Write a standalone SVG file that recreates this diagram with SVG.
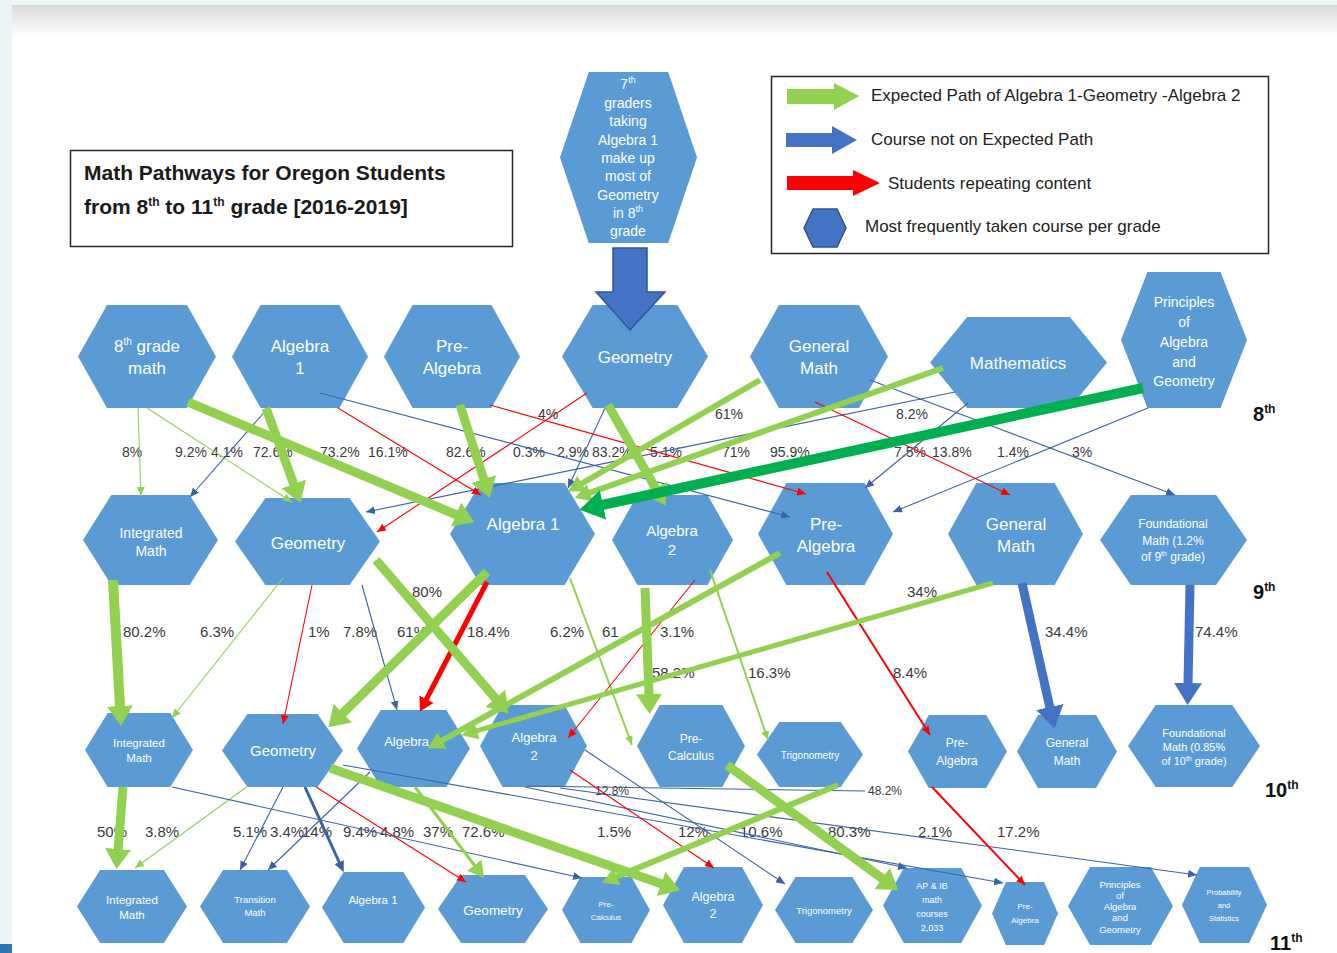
<svg xmlns="http://www.w3.org/2000/svg" xmlns:xlink="http://www.w3.org/1999/xlink" width="1337" height="953" viewBox="0 0 1337 953">
<defs>
  <linearGradient id="topfade" x1="0" y1="0" x2="0" y2="1">
    <stop offset="0" stop-color="#d9d9d9"/>
    <stop offset="1" stop-color="#ffffff"/>
  </linearGradient>
  <polygon id="hx" points="0.21,0 0.79,0 1,0.5 0.79,1 0.21,1 0,0.5"/>
  <!-- arrowheads: small ones put the tip on the line end, larger ones start at the line end -->
  <marker id="mgs" markerUnits="userSpaceOnUse" markerWidth="9" markerHeight="8" refX="9" refY="4" orient="auto"><path d="M0,0 L9,4 L0,8 z" fill="#92d050"/></marker>
  <marker id="mbs" markerUnits="userSpaceOnUse" markerWidth="9" markerHeight="8" refX="9" refY="4" orient="auto"><path d="M0,0 L9,4 L0,8 z" fill="#3a62a8"/></marker>
  <marker id="mrs" markerUnits="userSpaceOnUse" markerWidth="9" markerHeight="8" refX="9" refY="4" orient="auto"><path d="M0,0 L9,4 L0,8 z" fill="#ff0000"/></marker>
  <marker id="mbm" markerUnits="userSpaceOnUse" markerWidth="11" markerHeight="10" refX="2" refY="5" orient="auto"><path d="M0,0 L11,5 L0,10 z" fill="#3a62a8"/></marker>
  <marker id="mgm" markerUnits="userSpaceOnUse" markerWidth="16" markerHeight="18" refX="1" refY="9" orient="auto"><path d="M0,0 L16,9 L0,18 z" fill="#92d050"/></marker>
  <marker id="mrm" markerUnits="userSpaceOnUse" markerWidth="14" markerHeight="16" refX="1" refY="8" orient="auto"><path d="M0,0 L14,8 L0,16 z" fill="#ff0000"/></marker>
  <marker id="mgl" markerUnits="userSpaceOnUse" markerWidth="20" markerHeight="26" refX="1" refY="13" orient="auto"><path d="M0,0 L20,13 L0,26 z" fill="#92d050"/></marker>
  <marker id="mbl" markerUnits="userSpaceOnUse" markerWidth="22" markerHeight="28" refX="1" refY="14" orient="auto"><path d="M0,0 L22,14 L0,28 z" fill="#4472c4"/></marker>
  <marker id="mdg" markerUnits="userSpaceOnUse" markerWidth="24" markerHeight="30" refX="1" refY="15" orient="auto"><path d="M0,0 L24,15 L0,30 z" fill="#00b050"/></marker>
  <style>
    .hx { fill: #5b9bd5; }
    .ht { fill: #ffffff; font-family: "Liberation Sans", Arial, sans-serif; text-anchor: middle; }
    .pct { fill: #3a3a3a; font-family: "Liberation Sans", Arial, sans-serif; }
    .p1 { font-size: 14px; }
    .p2 { font-size: 15px; }
    .p3 { font-size: 12px; }
    .gr { fill: #111; font-family: "Liberation Sans", Arial, sans-serif; font-weight: bold; font-size: 20px; }
    .lg { fill: #222; font-family: "Liberation Sans", Arial, sans-serif; font-size: 17px; }
    .ttl { fill: #1a1a1a; font-family: "Liberation Sans", Arial, sans-serif; font-weight: bold; font-size: 21px; }
    .box { fill: none; stroke: #262626; stroke-width: 1.5; }
    line { fill: none; stroke-linecap: butt; }
    .g { stroke: #92d050; }
    .b { stroke: #3a62a8; }
    .bb { stroke: #4472c4; }
    .r { stroke: #ff0000; }
    .dg { stroke: #00b050; }
    .w1 { stroke-width: 1.1; }
    .w2 { stroke-width: 2; }
    .w3 { stroke-width: 3; }
    .w5 { stroke-width: 5; }
    .w6 { stroke-width: 6; }
    .w9 { stroke-width: 9; }
    .w10 { stroke-width: 10; }
  </style>
</defs>

<!-- page background -->
<rect x="0" y="0" width="1337" height="953" fill="#ffffff"/>
<rect x="0" y="0" width="1337" height="6" fill="#eef6f9"/>
<rect x="12" y="5" width="1325" height="32" fill="url(#topfade)"/>
<rect x="0" y="0" width="12" height="953" fill="#eaf5f8"/>
<rect x="0" y="944" width="12" height="9" fill="#2e75b6"/>

<!-- title -->
<g id="title">
  <rect class="box" x="70.5" y="150.5" width="442" height="96"/>
  <text class="ttl" x="84" y="180">Math Pathways for Oregon Students</text>
  <text class="ttl" x="84" y="214">from 8<tspan dy="-8" font-size="12">th</tspan><tspan dy="8"> to 11</tspan><tspan dy="-8" font-size="12">th</tspan><tspan dy="8"> grade [2016-2019]</tspan></text>
</g>

<!-- legend -->
<g id="legend">
  <rect class="box" x="771.5" y="76.5" width="497" height="177"/>
  <polygon points="787,89 834,89 834,83 859,96 834,110 834,104 787,104" fill="#92d050"/>
  <text class="lg" x="871" y="101">Expected Path of Algebra 1-Geometry -Algebra 2</text>
  <polygon points="786,133 832,133 832,126 857,140 832,154 832,147 786,147" fill="#4472c4"/>
  <text class="lg" x="871" y="145">Course not on Expected Path</text>
  <polygon points="787,176 853,176 853,170 880,183 853,196 853,190 787,190" fill="#ff0000"/>
  <text class="lg" x="888" y="189">Students repeating content</text>
  <polygon points="813,209 837,209 846,228 837,247 813,247 804,228" fill="#4472c4" stroke="#2f528f" stroke-width="1.5"/>
  <text class="lg" x="865" y="232">Most frequently taken course per grade</text>
</g>

<!-- 7th grade note -->
<g id="n7-note">
  <use xlink:href="#hx" class="hx" transform="translate(560,72) scale(137,171)"/>
  <g class="ht" font-size="14">
    <text x="628" y="89">7<tspan dy="-6" font-size="9">th</tspan></text>
    <text x="628" y="108">graders</text>
    <text x="628" y="126">taking</text>
    <text x="628" y="145">Algebra 1</text>
    <text x="628" y="163">make up</text>
    <text x="628" y="181">most of</text>
    <text x="628" y="200">Geometry</text>
    <text x="628" y="218">in 8<tspan dy="-6" font-size="9">th</tspan></text>
    <text x="628" y="236">grade</text>
  </g>
</g>

<!-- 8th grade courses -->
<g id="g8-math">
  <use xlink:href="#hx" class="hx" transform="translate(78,305) scale(138,103)"/>
  <text class="ht" font-size="17" x="147" y="352">8<tspan dy="-7" font-size="10">th</tspan><tspan dy="7"> grade</tspan></text>
  <text class="ht" font-size="17" x="147" y="374">math</text>
</g>
<g id="g8-alg1">
  <use xlink:href="#hx" class="hx" transform="translate(232,305) scale(136,103)"/>
  <text class="ht" font-size="17" x="300" y="352">Algebra</text>
  <text class="ht" font-size="17" x="300" y="374">1</text>
</g>
<g id="g8-prealg">
  <use xlink:href="#hx" class="hx" transform="translate(384,305) scale(136,103)"/>
  <text class="ht" font-size="17" x="452" y="352">Pre-</text>
  <text class="ht" font-size="17" x="452" y="374">Algebra</text>
</g>
<g id="g8-geom">
  <use xlink:href="#hx" class="hx" transform="translate(562,305) scale(146,103)"/>
  <text class="ht" font-size="17" x="635" y="363">Geometry</text>
</g>
<g id="g8-genmath">
  <use xlink:href="#hx" class="hx" transform="translate(750,305) scale(138,103)"/>
  <text class="ht" font-size="17" x="819" y="352">General</text>
  <text class="ht" font-size="17" x="819" y="374">Math</text>
</g>
<g id="g8-mathematics">
  <use xlink:href="#hx" class="hx" transform="translate(930,317) scale(177,91)"/>
  <text class="ht" font-size="17" x="1018" y="369">Mathematics</text>
</g>
<g id="g8-principles">
  <use xlink:href="#hx" class="hx" transform="translate(1121,272) scale(126,136)"/>
  <g class="ht" font-size="14">
    <text x="1184" y="307">Principles</text>
    <text x="1184" y="327">of</text>
    <text x="1184" y="347">Algebra</text>
    <text x="1184" y="367">and</text>
    <text x="1184" y="386">Geometry</text>
  </g>
</g>

<!-- 9th grade courses -->
<g id="g9-intmath">
  <use xlink:href="#hx" class="hx" transform="translate(83,495) scale(135,90)"/>
  <text class="ht" font-size="14" x="151" y="538">Integrated</text>
  <text class="ht" font-size="14" x="151" y="556">Math</text>
</g>
<g id="g9-geom">
  <use xlink:href="#hx" class="hx" transform="translate(235,498) scale(145,87)"/>
  <text class="ht" font-size="17" x="308" y="549">Geometry</text>
</g>
<g id="g9-alg1">
  <use xlink:href="#hx" class="hx" transform="translate(450,483) scale(145,102)"/>
  <text class="ht" font-size="17" x="523" y="530">Algebra 1</text>
</g>
<g id="g9-alg2">
  <use xlink:href="#hx" class="hx" transform="translate(612,495) scale(121,90)"/>
  <text class="ht" font-size="15" x="672" y="536">Algebra</text>
  <text class="ht" font-size="15" x="672" y="555">2</text>
</g>
<g id="g9-prealg">
  <use xlink:href="#hx" class="hx" transform="translate(758,483) scale(135,102)"/>
  <text class="ht" font-size="17" x="826" y="530">Pre-</text>
  <text class="ht" font-size="17" x="826" y="552">Algebra</text>
</g>
<g id="g9-genmath">
  <use xlink:href="#hx" class="hx" transform="translate(948,483) scale(135,102)"/>
  <text class="ht" font-size="17" x="1016" y="530">General</text>
  <text class="ht" font-size="17" x="1016" y="552">Math</text>
</g>
<g id="g9-found">
  <use xlink:href="#hx" class="hx" transform="translate(1100,495) scale(147,90)"/>
  <g class="ht" font-size="12">
    <text x="1173" y="528">Foundational</text>
    <text x="1173" y="545">Math (1.2%</text>
    <text x="1173" y="561">of 9<tspan dy="-5" font-size="7">th</tspan><tspan dy="5"> grade)</tspan></text>
  </g>
</g>

<!-- 10th grade courses -->
<g id="g10-intmath">
  <use xlink:href="#hx" class="hx" transform="translate(85,713) scale(108,74)"/>
  <text class="ht" font-size="11.5" x="139" y="747">Integrated</text>
  <text class="ht" font-size="11.5" x="139" y="762">Math</text>
</g>
<g id="g10-geom">
  <use xlink:href="#hx" class="hx" transform="translate(222,714) scale(121,73)"/>
  <text class="ht" font-size="15" x="283" y="756">Geometry</text>
</g>
<g id="g10-alg1">
  <use xlink:href="#hx" class="hx" transform="translate(357,710) scale(113,77)"/>
  <text class="ht" font-size="13" x="412" y="746">Algebra 1</text>
</g>
<g id="g10-alg2">
  <use xlink:href="#hx" class="hx" transform="translate(480,705) scale(107,82)"/>
  <text class="ht" font-size="13" x="534" y="742">Algebra</text>
  <text class="ht" font-size="13" x="534" y="760">2</text>
</g>
<g id="g10-precalc">
  <use xlink:href="#hx" class="hx" transform="translate(637,705) scale(108,82)"/>
  <text class="ht" font-size="12" x="691" y="743">Pre-</text>
  <text class="ht" font-size="12" x="691" y="760">Calculus</text>
</g>
<g id="g10-trig">
  <use xlink:href="#hx" class="hx" transform="translate(757,722) scale(106,65)"/>
  <text class="ht" font-size="10" x="810" y="759">Trigonometry</text>
</g>
<g id="g10-prealg">
  <use xlink:href="#hx" class="hx" transform="translate(908,715) scale(99,73)"/>
  <text class="ht" font-size="12" x="957" y="747">Pre-</text>
  <text class="ht" font-size="12" x="957" y="765">Algebra</text>
</g>
<g id="g10-genmath">
  <use xlink:href="#hx" class="hx" transform="translate(1017,715) scale(100,73)"/>
  <text class="ht" font-size="12" x="1067" y="747">General</text>
  <text class="ht" font-size="12" x="1067" y="765">Math</text>
</g>
<g id="g10-found">
  <use xlink:href="#hx" class="hx" transform="translate(1128,705) scale(132,82)"/>
  <g class="ht" font-size="11">
    <text x="1194" y="737">Foundational</text>
    <text x="1194" y="751">Math (0.85%</text>
    <text x="1194" y="765">of 10<tspan dy="-4" font-size="7">th</tspan><tspan dy="4"> grade)</tspan></text>
  </g>
</g>

<!-- 11th grade courses -->
<g id="g11-intmath">
  <use xlink:href="#hx" class="hx" transform="translate(77,870) scale(110,73)"/>
  <text class="ht" font-size="11.5" x="132" y="904">Integrated</text>
  <text class="ht" font-size="11.5" x="132" y="919">Math</text>
</g>
<g id="g11-transition">
  <use xlink:href="#hx" class="hx" transform="translate(200,870) scale(110,73)"/>
  <text class="ht" font-size="9.5" x="255" y="903">Transition</text>
  <text class="ht" font-size="9.5" x="255" y="916">Math</text>
</g>
<g id="g11-alg1">
  <use xlink:href="#hx" class="hx" transform="translate(322,872) scale(103,71)"/>
  <text class="ht" font-size="11.5" x="373" y="904">Algebra 1</text>
</g>
<g id="g11-geom">
  <use xlink:href="#hx" class="hx" transform="translate(438,875) scale(110,68)"/>
  <text class="ht" font-size="13.5" x="493" y="915">Geometry</text>
</g>
<g id="g11-precalc">
  <use xlink:href="#hx" class="hx" transform="translate(562,877) scale(88,66)"/>
  <text class="ht" font-size="8" x="606" y="907">Pre-</text>
  <text class="ht" font-size="8" x="606" y="920">Calculus</text>
</g>
<g id="g11-alg2">
  <use xlink:href="#hx" class="hx" transform="translate(663,867) scale(100,76)"/>
  <text class="ht" font-size="12.5" x="713" y="901">Algebra</text>
  <text class="ht" font-size="12.5" x="713" y="918">2</text>
</g>
<g id="g11-trig">
  <use xlink:href="#hx" class="hx" transform="translate(775,877) scale(98,66)"/>
  <text class="ht" font-size="9.5" x="824" y="914">Trigonometry</text>
</g>
<g id="g11-apib">
  <use xlink:href="#hx" class="hx" transform="translate(883,868) scale(99,75)"/>
  <g class="ht" font-size="9">
    <text x="932" y="889">AP &amp; IB</text>
    <text x="932" y="903">math</text>
    <text x="932" y="917">courses</text>
    <text x="932" y="931">2,033</text>
  </g>
</g>
<g id="g11-prealg">
  <use xlink:href="#hx" class="hx" transform="translate(992,882) scale(66,63)"/>
  <text class="ht" font-size="8" x="1025" y="909">Pre-</text>
  <text class="ht" font-size="8" x="1025" y="923">Algebra</text>
</g>
<g id="g11-principles">
  <use xlink:href="#hx" class="hx" transform="translate(1068,867) scale(105,78)"/>
  <g class="ht" font-size="9.5">
    <text x="1120" y="888">Principles</text>
    <text x="1120" y="899">of</text>
    <text x="1120" y="910">Algebra</text>
    <text x="1120" y="921">and</text>
    <text x="1120" y="933">Geometry</text>
  </g>
</g>
<g id="g11-probstat">
  <use xlink:href="#hx" class="hx" transform="translate(1182,867) scale(85,76)"/>
  <g class="ht" font-size="7.5">
    <text x="1224" y="895">Probability</text>
    <text x="1224" y="908">and</text>
    <text x="1224" y="921">Statistics</text>
  </g>
</g>

<!-- grade markers -->
<g id="grades">
  <text class="gr" x="1253" y="421">8<tspan dy="-8" font-size="12">th</tspan></text>
  <text class="gr" x="1253" y="599">9<tspan dy="-8" font-size="12">th</tspan></text>
  <text class="gr" x="1265" y="797">10<tspan dy="-8" font-size="12">th</tspan></text>
  <text class="gr" x="1270" y="950">11<tspan dy="-8" font-size="12">th</tspan></text>
</g>

<!-- transition percentages -->
<g id="labels" class="pct">
  <g class="p1">
    <text x="122" y="457">8%</text>
    <text x="175" y="457">9.2%</text>
    <text x="211" y="457">4.1%</text>
    <text x="253" y="457">72.6%</text>
    <text x="320" y="457">73.2%</text>
    <text x="368" y="457">16.1%</text>
    <text x="446" y="457">82.6%</text>
    <text x="513" y="457">0.3%</text>
    <text x="557" y="457">2.9%</text>
    <text x="592" y="457">83.2%</text>
    <text x="650" y="457">5.1%</text>
    <text x="722" y="457">71%</text>
    <text x="770" y="457">95.9%</text>
    <text x="894" y="457">7.5%</text>
    <text x="932" y="457">13.8%</text>
    <text x="997" y="457">1.4%</text>
    <text x="1072" y="457">3%</text>
    <text x="538" y="419">4%</text>
    <text x="715" y="419">61%</text>
    <text x="896" y="419">8.2%</text>
  </g>
  <g class="p2">
    <text x="123" y="637">80.2%</text>
    <text x="200" y="637">6.3%</text>
    <text x="308" y="637">1%</text>
    <text x="343" y="637">7.8%</text>
    <text x="397" y="637">61%</text>
    <text x="467" y="637">18.4%</text>
    <text x="550" y="637">6.2%</text>
    <text x="602" y="637">61</text>
    <text x="660" y="637">3.1%</text>
    <text x="1045" y="637">34.4%</text>
    <text x="1195" y="637">74.4%</text>
    <text x="412" y="597">80%</text>
    <text x="907" y="597">34%</text>
    <text x="652" y="678">58.2%</text>
    <text x="748" y="678">16.3%</text>
    <text x="893" y="678">8.4%</text>
    <text x="97" y="837">50%</text>
    <text x="145" y="837">3.8%</text>
    <text x="233" y="837">5.1%</text>
    <text x="270" y="837">3.4%</text>
    <text x="302" y="837">14%</text>
    <text x="343" y="837">9.4%</text>
    <text x="380" y="837">4.8%</text>
    <text x="423" y="837">37%</text>
    <text x="462" y="837">72.6%</text>
    <text x="597" y="837">1.5%</text>
    <text x="678" y="837">12%</text>
    <text x="740" y="837">10.6%</text>
    <text x="828" y="837">80.3%</text>
    <text x="918" y="837">2.1%</text>
    <text x="997" y="837">17.2%</text>
  </g>
  <g class="p3">
    <text x="595" y="795">12.8%</text>
    <text x="868" y="795">48.2%</text>
  </g>
</g>

<!-- course-to-course flows -->
<g id="connectors">
  <!-- 7th grade note into 8th grade Geometry -->
  <polygon points="613,248 647,248 647,292 665,292 630,330 596,292 613,292" fill="#4472c4" stroke="#2f5597" stroke-width="1.5"/>

  <!-- 8th to 9th -->
  <line class="g w1" x1="138" y1="408" x2="141" y2="496" marker-end="url(#mgs)"/>
  <line class="g w1" x1="147" y1="408" x2="292" y2="502" marker-end="url(#mgs)"/>
  <line class="b w1" x1="268" y1="408" x2="190" y2="497" marker-end="url(#mbs)"/>
  <line class="b w1" x1="320" y1="393" x2="790" y2="517" marker-end="url(#mbs)"/>
  <line class="b w1" x1="605" y1="408" x2="568" y2="488" marker-end="url(#mbs)"/>
  <line class="b w1" x1="955" y1="392" x2="366" y2="512" marker-end="url(#mbs)"/>
  <line class="b w1" x1="968" y1="403" x2="865" y2="488" marker-end="url(#mbs)"/>
  <line class="b w1" x1="1148" y1="408" x2="893" y2="512" marker-end="url(#mbs)"/>
  <line class="b w1" x1="870" y1="380" x2="1175" y2="495" marker-end="url(#mbs)"/>
  <line class="r w1" x1="338" y1="408" x2="481" y2="495" marker-end="url(#mrs)"/>
  <line class="r w1" x1="490" y1="405" x2="806" y2="494" marker-end="url(#mrs)"/>
  <line class="r w1" x1="587" y1="393" x2="377" y2="532" marker-end="url(#mrs)"/>
  <line class="r w1" x1="815" y1="402" x2="1010" y2="495" marker-end="url(#mrs)"/>
  <line class="g w9" x1="188" y1="402" x2="457" y2="515" marker-end="url(#mgl)"/>
  <line class="g w9" x1="266" y1="408" x2="294" y2="485" marker-end="url(#mgl)"/>
  <line class="g w9" x1="460" y1="405" x2="484" y2="480" marker-end="url(#mgl)"/>
  <line class="g w9" x1="608" y1="405" x2="656" y2="489" marker-end="url(#mgl)"/>
  <line class="g w6" x1="760" y1="380" x2="581" y2="484" marker-end="url(#mgm)"/>
  <line class="g w6" x1="943" y1="368" x2="589" y2="493" marker-end="url(#mgm)"/>
  <line class="dg w10" x1="1143" y1="388" x2="602" y2="505" marker-end="url(#mdg)"/>

  <!-- 9th to 10th -->
  <line class="g w1" x1="283" y1="578" x2="172" y2="718" marker-end="url(#mgs)"/>
  <line class="g w2" x1="570" y1="578" x2="632" y2="745" marker-end="url(#mgs)"/>
  <line class="g w2" x1="710" y1="570" x2="768" y2="740" marker-end="url(#mgs)"/>
  <line class="r w1" x1="312" y1="585" x2="283" y2="724" marker-end="url(#mrs)"/>
  <line class="r w1" x1="695" y1="580" x2="568" y2="738" marker-end="url(#mrs)"/>
  <line class="r w2" x1="827" y1="572" x2="930" y2="735" marker-end="url(#mrs)"/>
  <line class="b w1" x1="362" y1="585" x2="397" y2="710" marker-end="url(#mbs)"/>
  <line class="r w5" x1="487" y1="582" x2="426" y2="700" marker-end="url(#mrm)"/>
  <line class="g w10" x1="113" y1="580" x2="120" y2="707" marker-end="url(#mgl)"/>
  <line class="g w9" x1="376" y1="560" x2="496" y2="699" marker-end="url(#mgl)"/>
  <line class="g w9" x1="487" y1="572" x2="342" y2="714" marker-end="url(#mgl)"/>
  <line class="g w9" x1="645" y1="588" x2="649" y2="695" marker-end="url(#mgl)"/>
  <line class="g w6" x1="780" y1="553" x2="441" y2="741" marker-end="url(#mgm)"/>
  <line class="g w5" x1="993" y1="583" x2="476" y2="731" marker-end="url(#mgm)"/>
  <line class="bb w9" x1="1022" y1="583" x2="1050" y2="708" marker-end="url(#mbl)"/>
  <line class="bb w9" x1="1190" y1="585" x2="1188" y2="684" marker-end="url(#mbl)"/>

  <!-- 10th to 11th -->
  <line class="g w1" x1="248" y1="786" x2="135" y2="868" marker-end="url(#mgs)"/>
  <line class="b w1" x1="283" y1="787" x2="240" y2="870" marker-end="url(#mbs)"/>
  <line class="b w1" x1="370" y1="772" x2="268" y2="870" marker-end="url(#mbs)"/>
  <line class="b w3" x1="305" y1="787" x2="340" y2="864" marker-end="url(#mbm)"/>
  <line class="r w1" x1="316" y1="787" x2="466" y2="882" marker-end="url(#mrs)"/>
  <line class="b w1" x1="172" y1="787" x2="582" y2="878" marker-end="url(#mbs)"/>
  <line class="b w1" x1="343" y1="765" x2="1003" y2="883" marker-end="url(#mbs)"/>
  <line class="b w1" x1="525" y1="787" x2="907" y2="868" marker-end="url(#mbs)"/>
  <line class="b w1" x1="560" y1="788" x2="1197" y2="875" marker-end="url(#mbs)"/>
  <line class="b w1" x1="527" y1="786" x2="865" y2="791"/>
  <line class="r w1" x1="570" y1="770" x2="714" y2="868" marker-end="url(#mrs)"/>
  <line class="b w1" x1="585" y1="750" x2="785" y2="884" marker-end="url(#mbs)"/>
  <line class="r w2" x1="932" y1="787" x2="1025" y2="885" marker-end="url(#mrs)"/>
  <line class="g w3" x1="415" y1="787" x2="475" y2="866" marker-end="url(#mgm)"/>
  <line class="g w9" x1="123" y1="787" x2="118" y2="850" marker-end="url(#mgl)"/>
  <line class="g w9" x1="330" y1="768" x2="662" y2="884" marker-end="url(#mgl)"/>
  <line class="g w9" x1="727" y1="765" x2="883" y2="879" marker-end="url(#mgl)"/>
  <line class="g w6" x1="838" y1="785" x2="616" y2="877" marker-end="url(#mgm)"/>
</g>
</svg>
